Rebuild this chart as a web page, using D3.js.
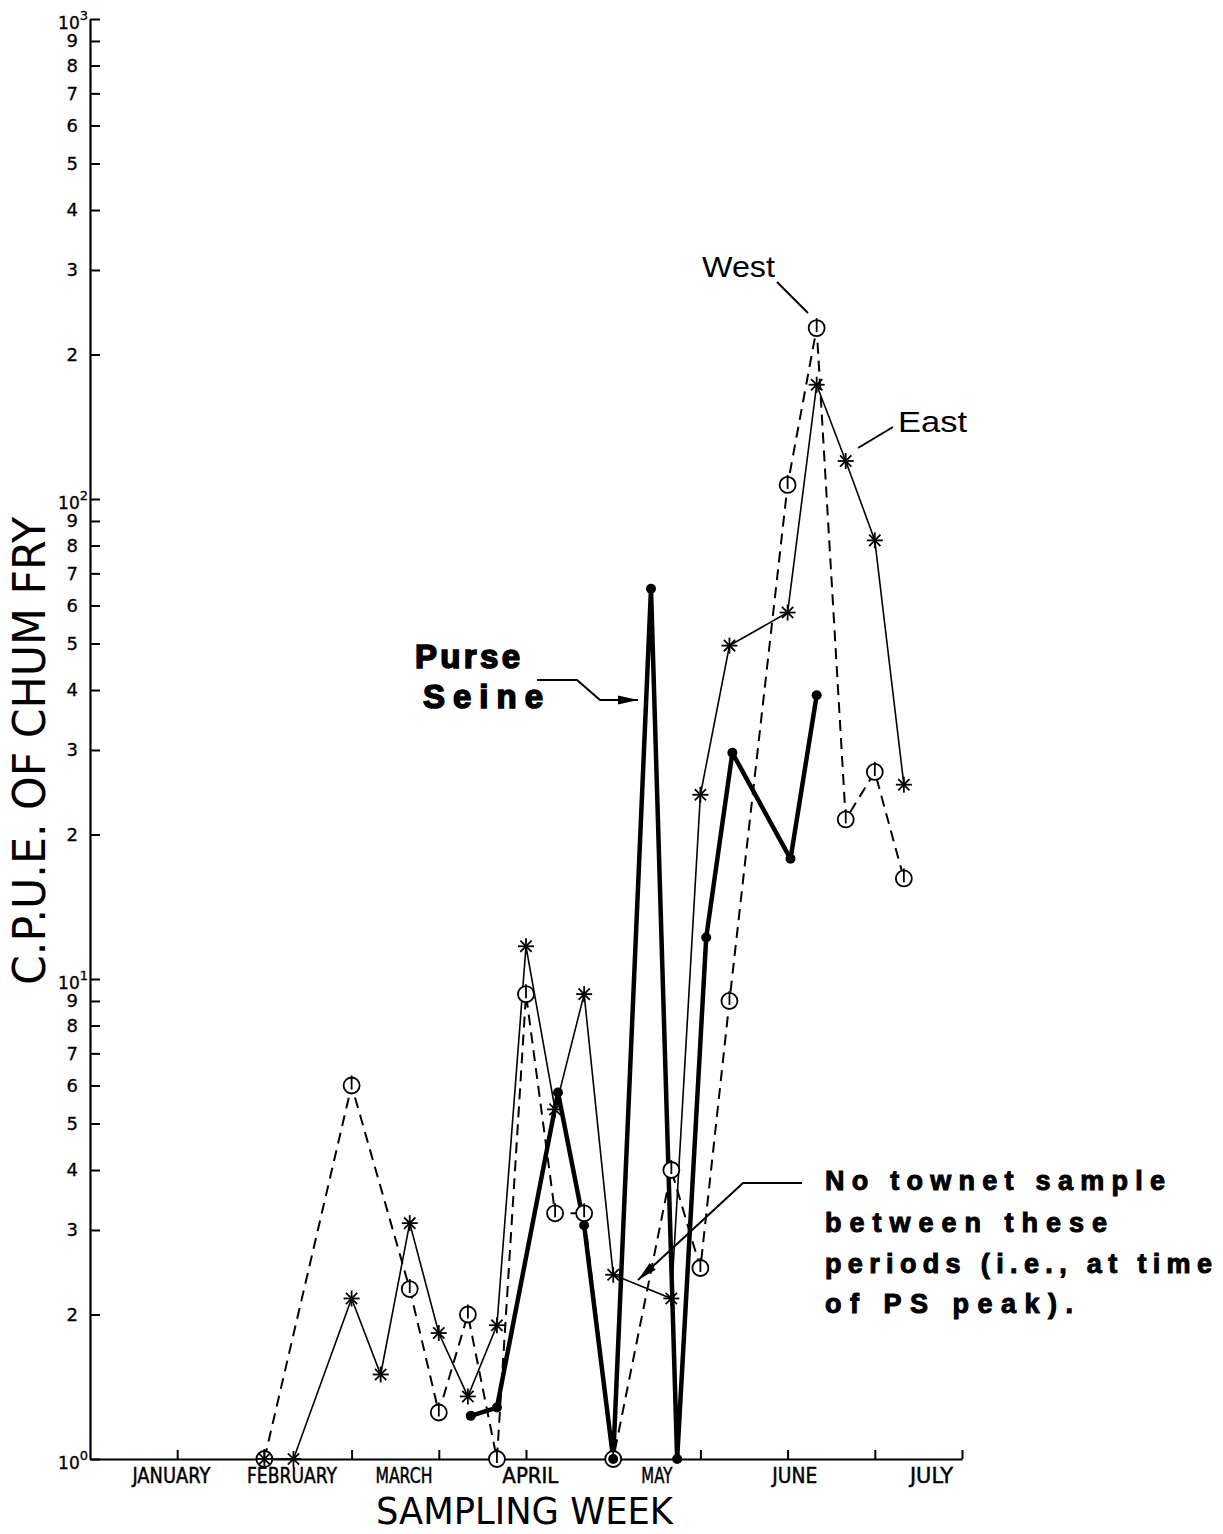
<!DOCTYPE html>
<html>
<head>
<meta charset="utf-8">
<script src="https://cdn.jsdelivr.net/npm/d3@7"></script>
<style>
  body { margin: 0; background: #fff; }
  svg { display: block; }
</style>
</head>
<body>
<div id="chart"></div>
<script>
// week index along the axis (one tick every 3 weeks), CPUE values
var westWeeks  = [6, 9, 11, 12, 13, 14, 15, 16, 17, 18, 20, 21, 22, 24, 25, 26, 27, 28];
var westValues = [1, 6.0, 2.26, 1.25, 2.0, 1, 9.3, 3.25, 3.25, 1, 4.0, 2.5, 9.0, 107, 227, 21.5, 27, 16.2];

var eastWeeks  = [6, 7, 9, 10, 11, 12, 13, 14, 15, 16, 17, 18, 20, 21, 22, 24, 25, 26, 27, 28];
var eastValues = [1, 1, 2.16, 1.5, 3.1, 1.83, 1.35, 1.9, 11.7, 5.35, 9.3, 2.42, 2.16, 24.2, 49.5, 58, 173, 120, 82, 25.4];

var psWeeks  = [13.1, 14, 16.1, 17, 18, 19.3, 20.2, 21.2, 22.1, 24.1, 25];
var psValues = [1.23, 1.28, 5.8, 3.07, 1, 65, 1, 12.2, 29.6, 17.8, 39];

var monthLabels = ["JANUARY", "FEBRUARY", "MARCH", "APRIL", "MAY", "JUNE", "JULY"];
var monthWeeks  = [2.8, 6.95, 10.8, 15.15, 19.5, 24.25, 28.95];
var monthWidths = [78, 90, 57, 56, 31, 45, 43];

var xTickWeeks = [3, 6, 9, 12, 15, 18, 21, 24, 27, 30];
var decades = [1, 10, 100];
var mantissas = [1, 2, 3, 4, 5, 6, 7, 8, 9];

var width = 1223, height = 1534;
var plotFont = "'DejaVu Sans', sans-serif";

var x = d3.scaleLinear().domain([0, 30]).range([90, 962]);
var y = d3.scaleLog().domain([1, 1000]).range([1459, 19]);

var svg = d3.select("#chart").append("svg")
  .attr("width", width)
  .attr("height", height);

// y axis: ticks point into the plot, digits on the left
var yTickValues = [];
decades.forEach(function(d) {
  mantissas.forEach(function(m) { yTickValues.push(d * m); });
});
yTickValues.push(1000);

function isDecade(v) {
  var p = Math.round(Math.log10(v));
  return Math.abs(v - Math.pow(10, p)) < 1e-9;
}

var yAxis = d3.axisLeft(y)
  .tickValues(yTickValues)
  .tickSizeInner(-10)
  .tickSizeOuter(0)
  .tickPadding(12)
  .tickFormat(function(d) {
    if (isDecade(d)) return "";
    var p = Math.floor(Math.log10(d) + 1e-9);
    return Math.round(d / Math.pow(10, p));
  });

var gy = svg.append("g")
  .attr("transform", "translate(" + x(0) + ",0)")
  .call(yAxis);
gy.select(".domain").attr("stroke", "#000").attr("stroke-width", 2.2);
gy.selectAll(".tick line").attr("stroke", "#000").attr("stroke-width", 2);
gy.selectAll(".tick text")
  .attr("font-family", plotFont)
  .attr("font-size", 18)
  .attr("fill", "#000")
  .attr("stroke", "#000")
  .attr("stroke-width", 0.3);

// powers of ten with superscript exponent
var decadeTicks = yTickValues.filter(isDecade);
var dl = svg.append("g").selectAll("text")
  .data(decadeTicks)
  .enter().append("text")
  .attr("x", x(0) - 2)
  .attr("y", function(d) { return y(d) + 10; })
  .attr("text-anchor", "end")
  .attr("font-family", plotFont)
  .attr("font-size", 17)
  .attr("stroke", "#000")
  .attr("stroke-width", 0.3);
dl.append("tspan").text("10");
dl.append("tspan")
  .attr("dy", -9)
  .attr("font-size", 13)
  .text(function(d) { return Math.round(Math.log10(d)); });

// x axis
var xAxis = d3.axisBottom(x)
  .tickValues(xTickWeeks)
  .tickSizeInner(-9)
  .tickSizeOuter(0)
  .tickFormat("");

var gx = svg.append("g")
  .attr("transform", "translate(0," + y(1) + ")")
  .call(xAxis);
gx.select(".domain").attr("stroke", "#000").attr("stroke-width", 2.2);
gx.selectAll(".tick line").attr("stroke", "#000").attr("stroke-width", 2);

svg.append("g").selectAll("text")
  .data(monthLabels)
  .enter().append("text")
  .attr("x", function(d, i) { return x(monthWeeks[i]) - monthWidths[i] / 2; })
  .attr("y", y(1) + 24)
  .attr("textLength", function(d, i) { return monthWidths[i]; })
  .attr("lengthAdjust", "spacingAndGlyphs")
  .attr("font-family", plotFont)
  .attr("font-size", 21)
  .attr("stroke", "#000")
  .attr("stroke-width", 0.5)
  .text(function(d) { return d; });

// axis titles
svg.append("text")
  .attr("x", 376)
  .attr("y", 1524)
  .attr("textLength", 297)
  .attr("lengthAdjust", "spacingAndGlyphs")
  .attr("font-family", plotFont)
  .attr("font-size", 38)
  .text("SAMPLING WEEK");

svg.append("text")
  .attr("transform", "translate(45,751) rotate(-90)")
  .attr("text-anchor", "middle")
  .attr("textLength", 468)
  .attr("lengthAdjust", "spacingAndGlyphs")
  .attr("font-family", plotFont)
  .attr("font-size", 45)
  .text("C.P.U.E. OF CHUM FRY");

// series lines
function series(weeks, values) {
  return weeks.map(function(w, i) { return [w, values[i]]; });
}
var line = d3.line()
  .x(function(d) { return x(d[0]); })
  .y(function(d) { return y(d[1]); });

var west = series(westWeeks, westValues);
var east = series(eastWeeks, eastValues);
var ps = series(psWeeks, psValues);

svg.append("path")
  .datum(west)
  .attr("d", line)
  .attr("fill", "none")
  .attr("stroke", "#000")
  .attr("stroke-width", 2)
  .attr("stroke-dasharray", "11,7");

svg.append("path")
  .datum(east)
  .attr("d", line)
  .attr("fill", "none")
  .attr("stroke", "#000")
  .attr("stroke-width", 1.6);

svg.append("path")
  .datum(ps)
  .attr("d", line)
  .attr("fill", "none")
  .attr("stroke", "#000")
  .attr("stroke-width", 4.5)
  .attr("stroke-linejoin", "round");

// West markers: circle with a bar through it
var wm = svg.append("g").selectAll("g")
  .data(west)
  .enter().append("g")
  .attr("transform", function(d) { return "translate(" + x(d[0]) + "," + y(d[1]) + ")"; });
wm.append("circle")
  .attr("r", 8)
  .attr("fill", "#fff")
  .attr("stroke", "#000")
  .attr("stroke-width", 1.8);
wm.append("line")
  .attr("y1", -10).attr("y2", 4)
  .attr("stroke", "#000")
  .attr("stroke-width", 1.8);

// East markers: asterisks
var em = svg.append("g").selectAll("g")
  .data(east)
  .enter().append("g")
  .attr("transform", function(d) { return "translate(" + x(d[0]) + "," + y(d[1]) + ")"; });
[0, 45, 90, 135].forEach(function(a) {
  var r = 8, rad = a * Math.PI / 180;
  em.append("line")
    .attr("x1", -r * Math.cos(rad)).attr("y1", -r * Math.sin(rad))
    .attr("x2", r * Math.cos(rad)).attr("y2", r * Math.sin(rad))
    .attr("stroke", "#000")
    .attr("stroke-width", 1.8);
});

// Purse seine dots
svg.append("g").selectAll("circle")
  .data(ps)
  .enter().append("circle")
  .attr("cx", function(d) { return x(d[0]); })
  .attr("cy", function(d) { return y(d[1]); })
  .attr("r", 5)
  .attr("fill", "#000");

// labels and pointers
function pointer(pts, head) {
  svg.append("polyline")
    .attr("points", pts.map(function(p) { return p.join(","); }).join(" "))
    .attr("fill", "none")
    .attr("stroke", "#000")
    .attr("stroke-width", 2);
  if (!head) return;
  var a = pts[pts.length - 2], b = pts[pts.length - 1];
  var ang = Math.atan2(b[1] - a[1], b[0] - a[0]) * 180 / Math.PI;
  svg.append("path")
    .attr("d", "M0,0 L-20,-4.5 L-20,4.5 Z")
    .attr("transform", "translate(" + b[0] + "," + b[1] + ") rotate(" + ang + ")")
    .attr("fill", "#000");
}

pointer([[777, 282], [808, 313]], false);
pointer([[893, 427], [858, 448]], false);
pointer([[537, 680], [577, 680], [600, 700], [638, 700]], true);
pointer([[802, 1183], [743, 1183], [638, 1280]], true);

svg.append("text")
  .attr("x", 702).attr("y", 277)
  .attr("textLength", 73).attr("lengthAdjust", "spacingAndGlyphs")
  .attr("font-family", "'Liberation Sans', Arial, sans-serif")
  .attr("font-size", 30)
  .text("West");

svg.append("text")
  .attr("x", 898).attr("y", 432)
  .attr("textLength", 69).attr("lengthAdjust", "spacingAndGlyphs")
  .attr("font-family", "'Liberation Sans', Arial, sans-serif")
  .attr("font-size", 30)
  .text("East");

var boldFont = "'Liberation Sans', Arial, sans-serif";
[["Purse", 415, 668, 105], ["Seine", 423, 708, 120]].forEach(function(t) {
  svg.append("text")
    .attr("x", t[1]).attr("y", t[2])
    .attr("textLength", t[3]).attr("lengthAdjust", "spacing")
    .attr("font-family", boldFont)
    .attr("font-weight", "bold")
    .attr("font-size", 33)
    .attr("stroke", "#000")
    .attr("stroke-width", 1.6)
    .text(t[0]);
});

var noteLines = ["No townet sample", "between these", "periods (i.e., at time", "of PS peak)."];
var noteWidths = [340, 282, 387, 248];
var noteBase = [1190, 1232, 1273, 1313];
svg.append("g").selectAll("text")
  .data(noteLines)
  .enter().append("text")
  .attr("x", 825)
  .attr("y", function(d, i) { return noteBase[i]; })
  .attr("textLength", function(d, i) { return noteWidths[i]; })
  .attr("lengthAdjust", "spacing")
  .attr("font-family", boldFont)
  .attr("font-weight", "bold")
  .attr("font-size", 27)
  .attr("stroke", "#000")
  .attr("stroke-width", 1)
  .text(function(d) { return d; });
</script>
</body>
</html>
